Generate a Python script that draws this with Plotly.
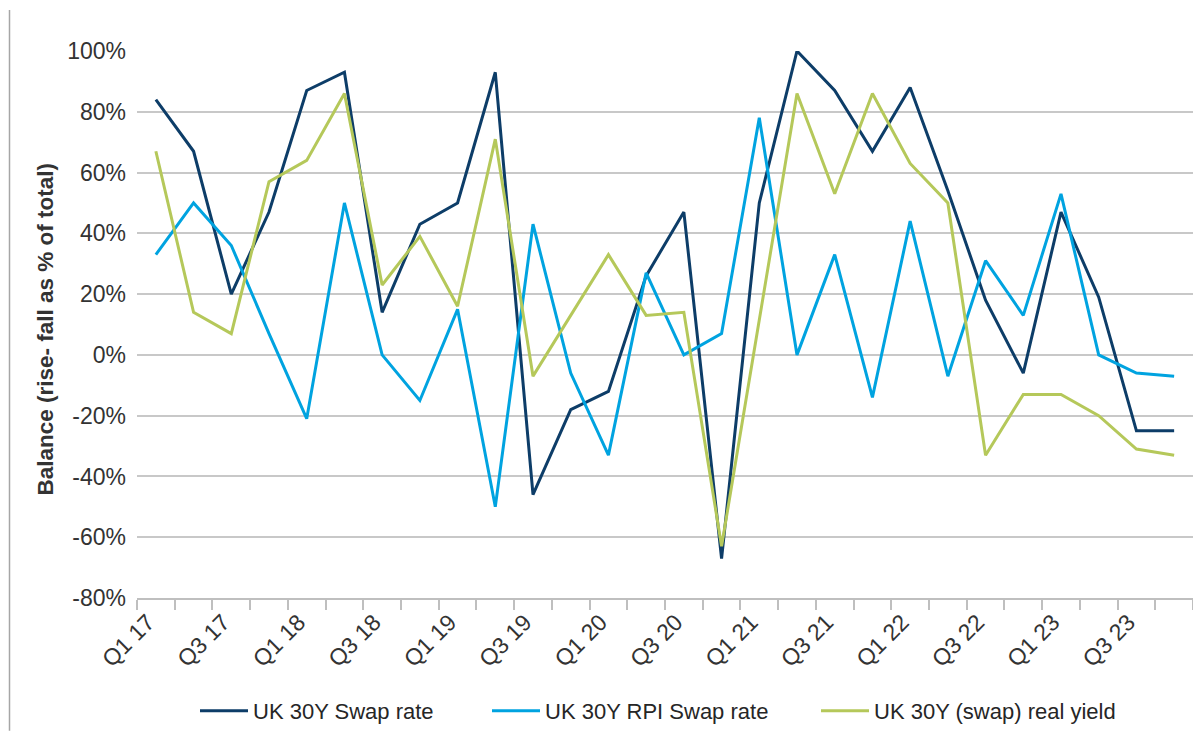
import plotly.graph_objects as go

# Quarterly survey balances, Q1 2017 - Q4 2023 (rise minus fall, % of total)
quarters = [
    "Q1 17", "Q2 17", "Q3 17", "Q4 17",
    "Q1 18", "Q2 18", "Q3 18", "Q4 18",
    "Q1 19", "Q2 19", "Q3 19", "Q4 19",
    "Q1 20", "Q2 20", "Q3 20", "Q4 20",
    "Q1 21", "Q2 21", "Q3 21", "Q4 21",
    "Q1 22", "Q2 22", "Q3 22", "Q4 22",
    "Q1 23", "Q2 23", "Q3 23", "Q4 23",
]
tick_labels = ["Q1 17", "Q3 17", "Q1 18", "Q3 18", "Q1 19", "Q3 19", "Q1 20",
               "Q3 20", "Q1 21", "Q3 21", "Q1 22", "Q3 22", "Q1 23", "Q3 23"]

y_ticks = [-80, -60, -40, -20, 0, 20, 40, 60, 80, 100]
y_tick_labels = ["-80%", "-60%", "-40%", "-20%", "0%",
                 "20%", "40%", "60%", "80%", "100%"]

swap_rate = [84, 67, 20, 47, 87, 93, 14, 43, 50, 93, -46, -18, -12, 26,
             47, -67, 50, 100, 87, 67, 88, 54, 18, -6, 47, 19, -25, -25]
rpi_swap_rate = [33, 50, 36, 7, -21, 50, 0, -15, 15, -50, 43, -6, -33, 27,
                 0, 7, 78, 0, 33, -14, 44, -7, 31, 13, 53, 0, -6, -7]
real_yield = [67, 14, 7, 57, 64, 86, 23, 39, 16, 71, -7, 13, 33, 13,
              14, -63, 12, 86, 53, 86, 63, 50, -33, -13, -13, -20, -31, -33]

series = [
    ("UK 30Y Swap rate", swap_rate, "#0d3d68", "legend"),
    ("UK 30Y RPI Swap rate", rpi_swap_rate, "#00a3e0", "legend2"),
    ("UK 30Y (swap) real yield", real_yield, "#b5c85a", "legend3"),
]

W, H = 1193, 732
ML, MR, MT, MB = 137, 0, 51, 133
PW = W - ML - MR
PH = H - MT - MB


def px_x(p):
    return (p - ML) / PW


def px_y(p):
    return (H - MB - p) / PH


fig = go.Figure()
for name, vals, color, leg in series:
    fig.add_trace(go.Scatter(
        x=quarters, y=vals, name=name, mode="lines",
        line=dict(color=color, width=3),
        legend=leg,
    ))

TEXT_FONT = "Liberation Sans, Arial, sans-serif"
legend_style = dict(
    orientation="h", yanchor="middle", xanchor="left",
    font=dict(family=TEXT_FONT, size=22, color="#262626"),
    bgcolor="rgba(0,0,0,0)", itemwidth=48,
)

fig.update_layout(
    width=W, height=H,
    margin=dict(l=ML, r=MR, t=MT, b=MB),
    paper_bgcolor="white", plot_bgcolor="white",
    showlegend=True,
    legend=dict(x=px_x(195), y=px_y(712), **legend_style),
    legend2=dict(x=px_x(487), y=px_y(712), **legend_style),
    legend3=dict(x=px_x(816), y=px_y(712), **legend_style),
    xaxis=dict(
        type="category",
        categoryorder="array", categoryarray=quarters,
        tickmode="array",
        tickvals=quarters,
        ticktext=[q if q in tick_labels else "" for q in quarters],
        tickson="boundaries",
        ticks="outside", ticklen=10, tickwidth=1.5, tickcolor="#bfbfbf",
        tickangle=-45, ticklabelshift=-8,
        tickfont=dict(family=TEXT_FONT, size=23, color="#333333"),
        showgrid=False,
        showline=True, linecolor="#bfbfbf", linewidth=1.5,
        range=[-0.5, len(quarters) - 0.5],
    ),
    yaxis=dict(
        range=[-80, 100],
        tickmode="array",
        tickvals=y_ticks,
        ticktext=y_tick_labels,
        tickfont=dict(family=TEXT_FONT, size=23, color="#333333"),
        showgrid=True, gridcolor="#c8c8c8", gridwidth=1.5,
        zeroline=False, showline=False,
        ticks="", ticklabelstandoff=10,
    ),
    annotations=[dict(
        text="<b>Balance (rise- fall as % of total)</b>",
        xref="paper", yref="paper",
        x=px_x(45), y=px_y(330),
        xanchor="center", yanchor="middle",
        textangle=-90, showarrow=False,
        font=dict(family=TEXT_FONT, size=22.5, color="#333333"),
    )],
    shapes=[dict(
        type="line", xref="paper", yref="paper",
        x0=px_x(9.5), x1=px_x(9.5), y0=px_y(732), y1=px_y(10),
        line=dict(color="#a6a6a6", width=1.5),
    )],
)

fig.write_html("out.html")
